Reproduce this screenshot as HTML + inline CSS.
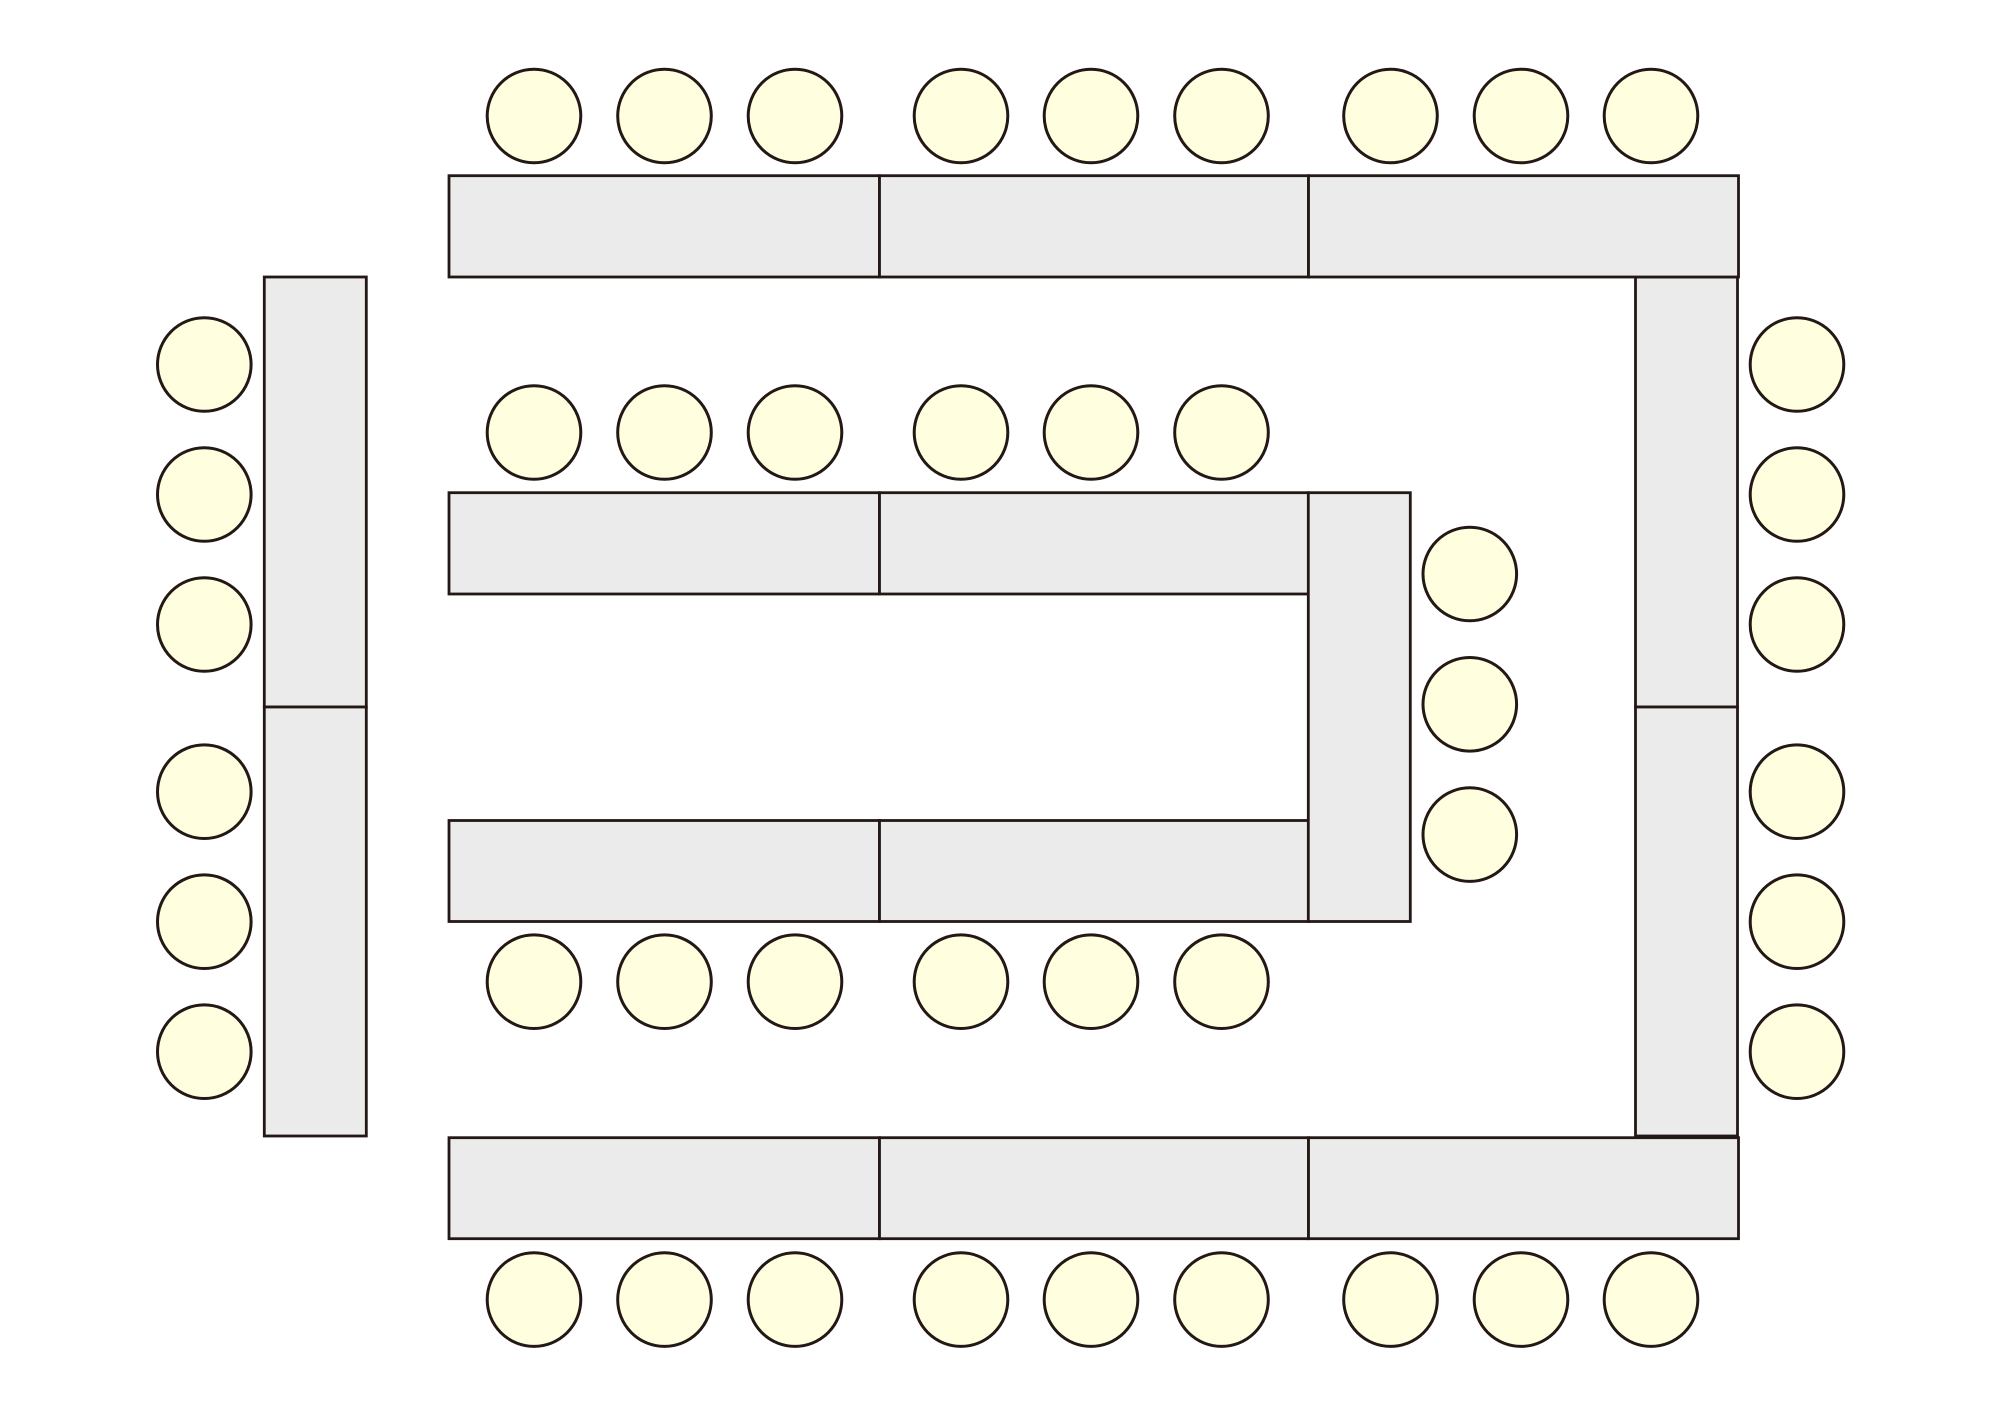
<!DOCTYPE html>
<html>
<head>
<meta charset="utf-8">
<style>
  html, body { margin: 0; padding: 0; background: #ffffff; }
  svg { display: block; }
</style>
</head>
<body>
<svg width="2000" height="1413" viewBox="0 0 2000 1413" xmlns="http://www.w3.org/2000/svg">
  <rect x="0" y="0" width="2000" height="1413" fill="#ffffff"/>
  <g fill="#ebebeb" stroke="#231815" stroke-width="2.8">
    <!-- left vertical tables -->
    <rect x="264.3" y="277" width="102" height="430"/>
    <rect x="264.3" y="707" width="102" height="429"/>
    <!-- right vertical tables -->
    <rect x="1635.5" y="277" width="102" height="430"/>
    <rect x="1635.5" y="707" width="102" height="429"/>
    <!-- top tables -->
    <rect x="449" y="175.7" width="430.5" height="101.3"/>
    <rect x="879.5" y="175.7" width="429" height="101.3"/>
    <rect x="1308.5" y="175.7" width="430" height="101.3"/>
    <!-- bottom tables -->
    <rect x="449" y="1137.7" width="430.5" height="101"/>
    <rect x="879.5" y="1137.7" width="429" height="101"/>
    <rect x="1308.5" y="1137.7" width="430" height="101"/>
    <!-- inner U -->
    <rect x="449" y="492.7" width="430.5" height="101.3"/>
    <rect x="879.5" y="492.7" width="429" height="101.3"/>
    <rect x="449" y="820.5" width="430.5" height="101"/>
    <rect x="879.5" y="820.5" width="429" height="101"/>
    <rect x="1308.3" y="492.7" width="102" height="428.8"/>
  </g>
  <g fill="#ffffdf" stroke="#231815" stroke-width="3">
    <!-- top row -->
    <circle cx="534" cy="116" r="46.8"/>
    <circle cx="664.5" cy="116" r="46.8"/>
    <circle cx="795" cy="116" r="46.8"/>
    <circle cx="961" cy="116" r="46.8"/>
    <circle cx="1091" cy="116" r="46.8"/>
    <circle cx="1221.5" cy="116" r="46.8"/>
    <circle cx="1390.5" cy="116" r="46.8"/>
    <circle cx="1521" cy="116" r="46.8"/>
    <circle cx="1651" cy="116" r="46.8"/>
    <!-- inner top row -->
    <circle cx="534" cy="432.5" r="46.8"/>
    <circle cx="664.5" cy="432.5" r="46.8"/>
    <circle cx="795" cy="432.5" r="46.8"/>
    <circle cx="961" cy="432.5" r="46.8"/>
    <circle cx="1091" cy="432.5" r="46.8"/>
    <circle cx="1221.5" cy="432.5" r="46.8"/>
    <!-- inner bottom row -->
    <circle cx="534" cy="981.7" r="46.8"/>
    <circle cx="664.5" cy="981.7" r="46.8"/>
    <circle cx="795" cy="981.7" r="46.8"/>
    <circle cx="961" cy="981.7" r="46.8"/>
    <circle cx="1091" cy="981.7" r="46.8"/>
    <circle cx="1221.5" cy="981.7" r="46.8"/>
    <!-- bottom row -->
    <circle cx="534" cy="1299.6" r="46.8"/>
    <circle cx="664.5" cy="1299.6" r="46.8"/>
    <circle cx="795" cy="1299.6" r="46.8"/>
    <circle cx="961" cy="1299.6" r="46.8"/>
    <circle cx="1091" cy="1299.6" r="46.8"/>
    <circle cx="1221.5" cy="1299.6" r="46.8"/>
    <circle cx="1390.5" cy="1299.6" r="46.8"/>
    <circle cx="1521" cy="1299.6" r="46.8"/>
    <circle cx="1651" cy="1299.6" r="46.8"/>
    <!-- left column -->
    <circle cx="204.3" cy="364.5" r="46.8"/>
    <circle cx="204.3" cy="494.5" r="46.8"/>
    <circle cx="204.3" cy="624.5" r="46.8"/>
    <circle cx="204.3" cy="791.7" r="46.8"/>
    <circle cx="204.3" cy="921.7" r="46.8"/>
    <circle cx="204.3" cy="1051.7" r="46.8"/>
    <!-- right column -->
    <circle cx="1797" cy="364.5" r="46.8"/>
    <circle cx="1797" cy="494.5" r="46.8"/>
    <circle cx="1797" cy="624.5" r="46.8"/>
    <circle cx="1797" cy="791.7" r="46.8"/>
    <circle cx="1797" cy="921.7" r="46.8"/>
    <circle cx="1797" cy="1051.7" r="46.8"/>
    <!-- inner U right column -->
    <circle cx="1469.8" cy="574" r="46.8"/>
    <circle cx="1469.8" cy="704.3" r="46.8"/>
    <circle cx="1469.8" cy="834.6" r="46.8"/>
  </g>
</svg>
</body>
</html>
